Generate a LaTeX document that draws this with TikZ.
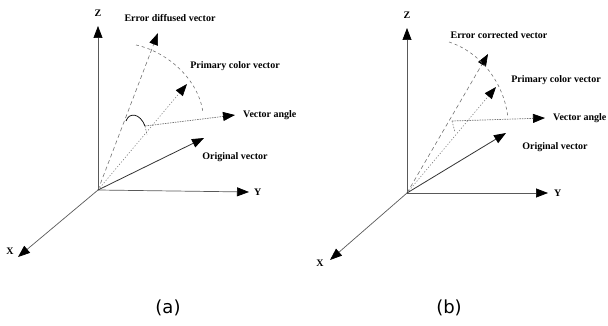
\documentclass[tikz,border=0pt]{standalone}
\usepackage{fontspec}
\setmainfont{Liberation Serif}
\newfontfamily\capfont{DejaVu Sans}
\usetikzlibrary{arrows.meta}
\begin{document}
\begin{tikzpicture}[x=1pt,y=-1pt,
  lbl/.style={font=\bfseries\fontsize{10}{11}\selectfont, inner sep=0pt},
  captxt/.style={font=\capfont\fontsize{18}{20}\selectfont, inner sep=0pt},
  arrtip/.style={-{Triangle[length=12pt,width=9pt,black]}},
  axisln/.style={arrtip, draw=black!65, line width=0.7pt},
  origln/.style={arrtip, draw=black!80, line width=0.8pt},
  errv/.style={arrtip, draw=black!55, line width=0.6pt, dash pattern=on 4pt off 3pt},
  primv/.style={arrtip, draw=black!50, line width=0.6pt, dash pattern=on 1.2pt off 1.8pt},
  angv/.style={arrtip, draw=black!55, line width=0.7pt, dash pattern=on 1.5pt off 1pt},
  bigarc/.style={draw=black!55, line width=0.6pt, dash pattern=on 3pt off 3pt},
  smallarc/.style={draw=black, line width=0.7pt},
  shortd/.style={draw=black!55, line width=0.6pt, dash pattern=on 1.5pt off 1.5pt}]
\useasboundingbox (0,0) rectangle (608,326);

% ---------- panel (a) ----------
\coordinate (Oa) at (98,190);
\coordinate (Za) at (98,26);
\coordinate (Ya) at (249,192);
\coordinate (Xa) at (18,257);
\coordinate (OVa) at (204,138);
\coordinate (EVa) at (158,33);
\coordinate (PVa) at (187,84);
\coordinate (VAsa) at (145,126);
\coordinate (VAea) at (235,115);
\coordinate (ARsa) at (126,121);
\coordinate (SDa) at (147,135);
\coordinate (BAsa) at (136,45);
\coordinate (BAea) at (203,113);

\node[lbl] (zla) at (98,13) {Z};
\node[lbl, anchor=west] (yla) at (254,192) {Y};
\node[lbl] (xla) at (10,251) {X};
\node[lbl] (ola) at (235,157) {Original vector};
\node[lbl] (ela) at (170,18) {Error diffused vector};
\node[lbl] (pla) at (235,66) {Primary color vector};
\node[lbl, anchor=west] (vla) at (243,115) {Vector angle};
\node[captxt] (capa) at (168,308) {(a)};

\draw[axisln] (Oa) -- (Za);
\draw[axisln] (Oa) -- (Ya);
\draw[axisln] (Oa) -- (Xa);
\draw[errv] (Oa) -- (EVa);
\draw[primv] (Oa) -- (PVa);
\draw[bigarc] (BAsa) .. controls (168,52) and (199,80) .. (BAea);
\draw[smallarc] (ARsa) .. controls (129,112) and (140,113) .. (VAsa);
\draw[shortd] (VAsa) -- (SDa);
\draw[angv] (VAsa) -- (VAea);
\draw[origln] (Oa) -- (OVa);

% ---------- panel (b) ----------
\coordinate (Ob) at (407,193);
\coordinate (Zb) at (407,28);
\coordinate (Yb) at (548,193);
\coordinate (Xb) at (330,260);
\coordinate (OVb) at (506,133);
\coordinate (EVb) at (488,54);
\coordinate (PVb) at (496,87);
\coordinate (VAsb) at (452,121);
\coordinate (VAeb) at (545,118);
\coordinate (SDb) at (455,132);
\coordinate (BAsb) at (449,42);
\coordinate (BAeb) at (508,118);

\node[lbl] (zlb) at (407,15) {Z};
\node[lbl, anchor=west] (ylb) at (554,193) {Y};
\node[lbl] (xlb) at (320,263) {X};
\node[lbl] (olb) at (555,147) {Original vector};
\node[lbl] (elb) at (499,35) {Error corrected vector};
\node[lbl] (plb) at (556,80) {Primary color vector};
\node[lbl, anchor=west] (vlb) at (553,118) {Vector angle};
\node[captxt] (capb) at (449,308) {(b)};

\draw[axisln] (Ob) -- (Zb);
\draw[axisln] (Ob) -- (Yb);
\draw[axisln] (Ob) -- (Xb);
\draw[errv] (Ob) -- (EVb);
\draw[primv] (Ob) -- (PVb);
\draw[bigarc] (BAsb) .. controls (480,52) and (504,82) .. (BAeb);
\draw[shortd] (VAsb) -- (SDb);
\draw[angv] (VAsb) -- (VAeb);
\draw[origln] (Ob) -- (OVb);
\end{tikzpicture}
\end{document}
